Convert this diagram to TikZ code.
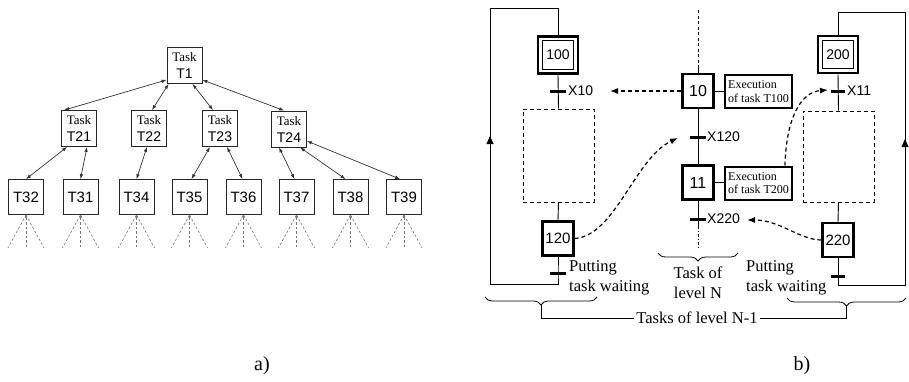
\documentclass[tikz,border=0pt]{standalone}
\usepackage{fontspec}
\setmainfont{Liberation Serif}
\setsansfont{Liberation Sans}
\usetikzlibrary{arrows.meta,calc,decorations.pathreplacing}
\begin{document}
\begin{tikzpicture}[x=1pt,y=-1pt,
  tbox/.style={draw=black!85, line width=0.8pt, minimum width=35pt, minimum height=36pt, inner sep=0pt, align=center, font=\fontsize{13}{17}\selectfont},
  leafbox/.style={draw=black!85, line width=0.8pt, minimum width=35pt, minimum height=35pt, inner sep=0pt, font=\sffamily\fontsize{15}{15}\selectfont},
  tarr/.style={draw=black!80, line width=0.7pt, {Latex[length=5pt,width=3.5pt]}-{Latex[length=5pt,width=3.5pt]}},
  fan/.style={draw=black!55, line width=0.6pt, dash pattern=on 2.5pt off 2pt},
  stepbox/.style={draw, line width=2.2pt, minimum width=31pt, minimum height=34pt, inner sep=0pt, font=\sffamily\fontsize{16}{16}\selectfont},
  initbox/.style={draw, line width=2.6pt, minimum width=40pt, minimum height=37pt, inner sep=0pt, font=\sffamily\fontsize{14}{14}\selectfont},
  execbox/.style={draw, line width=2pt, minimum width=67pt, minimum height=33pt, inner sep=2pt, align=left, font=\fontsize{12}{13.5}\selectfont},
  macrobox/.style={draw, line width=0.9pt, dash pattern=on 4pt off 3pt},
  flow/.style={line width=0.9pt},
  tbar/.style={line width=3pt},
  darr/.style={line width=1.2pt, dash pattern=on 4pt off 3pt, -{Latex[length=8pt,width=6pt]}},
  uparr/.style={-{Triangle[length=8pt,width=7pt]}, line width=0.9pt},
  xlbl/.style={anchor=west, inner sep=1pt, font=\sffamily\fontsize{14}{14}\selectfont},
  note/.style={align=left, inner sep=0pt, font=\fontsize{16.5}{20}\selectfont},
  brc/.style={decorate, decoration={brace, amplitude=8pt}, line width=0.8pt},
]
\useasboundingbox (0,0) rectangle (909,381);

% ---------------- a) task tree ----------------
\node[tbox] (T1)  at (184.5,65.5) {Task\\{\sffamily\fontsize{14}{17}\selectfont T1}};
\node[tbox] (T21) at (79,128.5)   {Task\\{\sffamily\fontsize{14}{17}\selectfont T21}};
\node[tbox] (T22) at (149,128.5)  {Task\\{\sffamily\fontsize{14}{17}\selectfont T22}};
\node[tbox] (T23) at (220,128.5)  {Task\\{\sffamily\fontsize{14}{17}\selectfont T23}};
\node[tbox] (T24) at (289,129)    {Task\\{\sffamily\fontsize{14}{17}\selectfont T24}};

\node[leafbox] (T32) at (26,197)    {T32};
\node[leafbox] (T31) at (80.5,197)  {T31};
\node[leafbox] (T34) at (136.5,197) {T34};
\node[leafbox] (T35) at (189.5,197) {T35};
\node[leafbox] (T36) at (243.5,197) {T36};
\node[leafbox] (T37) at (296.5,197) {T37};
\node[leafbox] (T38) at (350.5,197) {T38};
\node[leafbox] (T39) at (404,197)   {T39};

\draw[tarr] ($(T1.south west)+(0,-4)$) -- ($(T21.north west)+(3,0)$);
\draw[tarr] ($(T1.south west)+(2,0)$) -- ($(T22.north)+(3,0)$);
\draw[tarr] ($(T1.south east)+(-10,0)$) -- ($(T23.north)+(-7,0)$);
\draw[tarr] ($(T1.south east)+(0,-4)$) -- ($(T24.north west)+(13,0)$);
\draw[tarr] ($(T21.south west)+(6,0)$) -- (T32.north);
\draw[tarr] ($(T21.south)+(8,0)$) -- (T31.north);
\draw[tarr] ($(T22.south)+(-2,0)$) -- (T34.north);
\draw[tarr] ($(T23.south)+(-10,0)$) -- ($(T35.north)+(2,0)$);
\draw[tarr] ($(T23.south)+(7,0)$) -- ($(T36.north)+(-1,0)$);
\draw[tarr] ($(T24.south)+(-10,0)$) -- ($(T37.north)+(-2,0)$);
\draw[tarr] ($(T24.south)+(11,0)$) -- ($(T38.north)+(-5,0)$);
\draw[tarr] ($(T24.east)+(0,12)$) -- ($(T39.north)+(-4,0)$);

\foreach \n in {T32,T31,T34,T35,T36,T37,T38,T39} {
  \draw[fan] (\n.south) -- ++(-18,33);
  \draw[fan, {Latex[length=3pt,width=2.5pt]}-] (\n.south) -- ++(0,33);
  \draw[fan] (\n.south) -- ++(18,33);
}

\node[font=\fontsize{20}{20}\selectfont] (la) at (262,366) {a)};

% ---------------- b) Grafcet ----------------
% left chain
\node[initbox] (b100) at (558,55) {100};
\draw[line width=0.8pt] ($(b100.north west)+(5.5,5.5)$) rectangle ($(b100.south east)+(-5.5,-5.5)$);
\node[macrobox, minimum width=71pt, minimum height=93pt] (mL) at (558.5,155.5) {};
\node[stepbox, font=\sffamily\fontsize{15}{15}\selectfont] (b120) at (558,238.5) {120};
\coordinate (barL1) at (558,91);
\coordinate (barL2) at (558,273);
\coordinate (cL1) at (558,284);
\coordinate (cL2) at (490,284);
\coordinate (cL3) at (490,8);
\coordinate (cL4) at (558,8);
\draw[flow] (b100.south) -- (mL.north);
\draw[flow] (mL.south) -- (b120.north);
\draw[flow] (b120.south) -- (barL2) -- (cL1) -- (cL2) -- (cL3) -- (cL4) -- (b100.north);
\draw[uparr] (490,148) -- (490,136);
\draw[tbar] ($(barL1)+(-8,0)$) -- ($(barL1)+(8,0)$);
\draw[tbar] ($(barL2)+(-8,0)$) -- ($(barL2)+(8,0)$);
\node[xlbl] (x10) at (567,91) {X10};

% central chain
\node[stepbox] (b10) at (698,91) {10};
\node[stepbox] (b11) at (698,182.5) {11};
\node[execbox] (e1) at (758.5,91.5) {Execution\\of task T100};
\node[execbox] (e2) at (758.5,183) {Execution\\of task T200};
\coordinate (cTop) at (698,10);
\coordinate (cMid) at (698,66);
\coordinate (barC1) at (698,137);
\coordinate (barC2) at (698,219);
\coordinate (cBot1) at (698,226);
\coordinate (cBot2) at (698,248);
\draw[flow, dash pattern=on 3pt off 2.5pt] (cTop) -- (cMid);
\draw[flow] (cMid) -- (b10.north);
\draw[flow] (b10.south) -- (b11.north);
\draw[flow] (b11.south) -- (cBot1);
\draw[flow, dash pattern=on 3pt off 2pt on 1pt off 2pt] (cBot1) -- (cBot2);
\draw[flow] (b10.east) -- (b10.east -| e1.west);
\draw[flow] (b11.east) -- (b11.east -| e2.west);
\draw[tbar] ($(barC1)+(-8,0)$) -- ($(barC1)+(8,0)$);
\draw[tbar] ($(barC2)+(-8,0)$) -- ($(barC2)+(8,0)$);
\node[xlbl] (x120) at (706,137) {X120};
\node[xlbl] (x220) at (706,219) {X220};

% right chain
\node[initbox] (b200) at (838,54.5) {200};
\draw[line width=0.8pt] ($(b200.north west)+(5.5,5.5)$) rectangle ($(b200.south east)+(-5.5,-5.5)$);
\node[macrobox, minimum width=71pt, minimum height=91pt] (mR) at (838.5,156.5) {};
\node[stepbox, font=\sffamily\fontsize{15}{15}\selectfont] (b220) at (838,240) {220};
\coordinate (barR1) at (838,91);
\coordinate (barR2) at (838,276);
\coordinate (cR1) at (838,285);
\coordinate (cR2) at (905,285);
\coordinate (cR3) at (905,12);
\coordinate (cR4) at (838,12);
\draw[flow] (b200.south) -- (mR.north);
\draw[flow] (mR.south) -- (b220.north);
\draw[flow] (b220.south) -- (barR2) -- (cR1) -- (cR2) -- (cR3) -- (cR4) -- (b200.north);
\draw[uparr] (905,151) -- (905,139);
\draw[tbar] ($(barR1)+(-7,0)$) -- ($(barR1)+(7,0)$);
\draw[tbar] ($(barR2)+(-7,0)$) -- ($(barR2)+(7,0)$);
\node[xlbl] (x11) at (846,91) {X11};

% dashed synchronisation arrows
\coordinate (tX10) at (610,91);
\coordinate (tX120) at (678,138);
\coordinate (tX11) at (828,90);
\coordinate (tX220) at (747,220);
\draw[darr] (b10.west) -- (tX10);
\draw[darr] (b120.east) .. controls (615,236) and (635,158) .. (tX120);
\draw[darr] ($(e2.north east)+(-8,0)$) .. controls (786,120) and (800,92) .. (tX11);
\draw[darr] (b220.west) .. controls (800,240) and (780,220) .. (tX220);

% texts
\node[note, anchor=west] (pL) at (569,278) {Putting\\task waiting};
\node[note, anchor=west] (pR) at (746,278) {Putting\\task waiting};
\node[note, align=center] (tN) at (698,283) {Task of\\level N};
\node[note, inner sep=2pt] (tN1) at (697,318) {Tasks of level N-1};

% braces
\draw[brc] (738,253) -- (658,253);
\draw[brc] (597,297) -- (485,297);
\draw[brc] (906,298) -- (787,298);
\coordinate (tipL) at (541,305);
\coordinate (tipR) at (846.5,306);
\draw[line width=0.8pt] (tipL) |- (tN1.west);
\draw[line width=0.8pt] (tipR) |- (tN1.east);

\node[font=\fontsize{20}{20}\selectfont] (lb) at (802,366) {b)};
\end{tikzpicture}
\end{document}
